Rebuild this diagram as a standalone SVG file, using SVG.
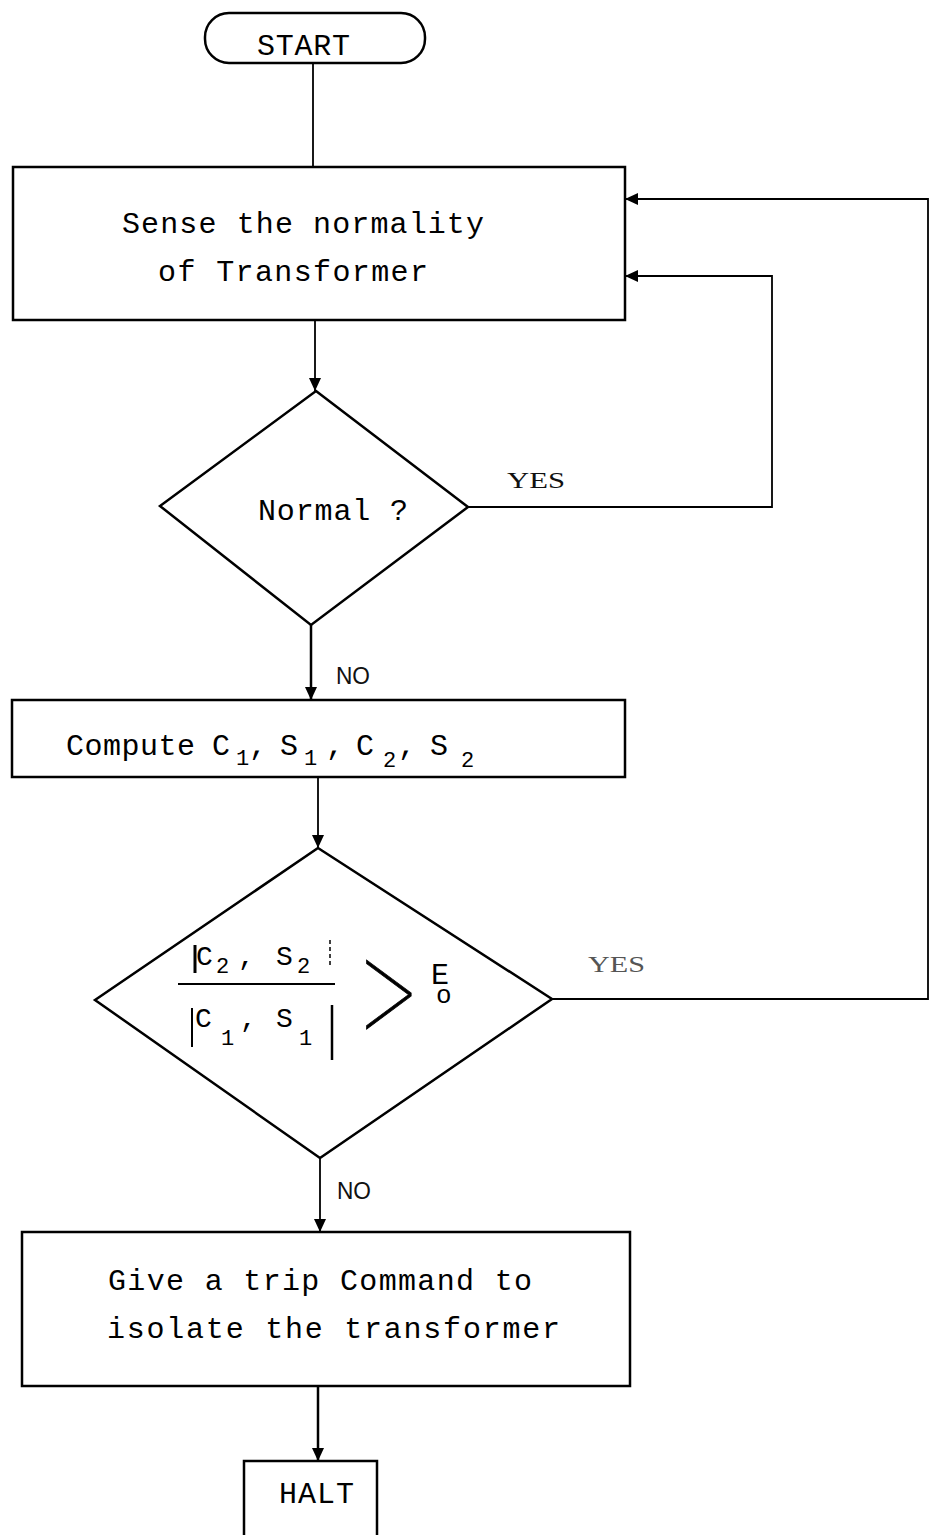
<svg xmlns="http://www.w3.org/2000/svg" width="931" height="1535" viewBox="0 0 931 1535">
<defs>
<marker id="arr" markerUnits="userSpaceOnUse" markerWidth="14" markerHeight="12" refX="13" refY="6" orient="auto">
<path d="M0,0 L13,6 L0,12 Z" fill="#000"/>
</marker>
<style>
.box{fill:#fff;stroke:#000;stroke-width:2.5}
.con{fill:none;stroke:#000;stroke-width:1.8}
.t{font-family:"Liberation Mono",monospace;font-size:30px;fill:#000}
.s{font-family:"Liberation Mono",monospace;font-size:22px;fill:#000}
.lb{font-family:"Liberation Sans",sans-serif;font-size:24px;fill:#111}
</style>
</defs>
<rect width="931" height="1535" fill="#fff"/>
<g id="connectors">
<line class="con" x1="313" y1="63" x2="313" y2="167"/>
<line class="con" x1="315" y1="320" x2="315" y2="391" marker-end="url(#arr)"/>
<line class="con" x1="311" y1="625" x2="311" y2="700" marker-end="url(#arr)" style="stroke-width:2.5"/>
<line class="con" x1="318" y1="777" x2="318" y2="848" marker-end="url(#arr)"/>
<line class="con" x1="320" y1="1158" x2="320" y2="1232" marker-end="url(#arr)"/>
<line class="con" x1="318" y1="1386" x2="318" y2="1461" marker-end="url(#arr)" style="stroke-width:2.5"/>
<polyline class="con" points="468,507 772,507 772,276 625,276" marker-end="url(#arr)"/>
<polyline class="con" points="552,999 928,999 928,199 625,199" marker-end="url(#arr)"/>
<text class="lb" x="507" y="488" textLength="58" lengthAdjust="spacingAndGlyphs" style="font-family:'Liberation Serif',serif">YES</text>
<text class="lb" x="588" y="972" textLength="57" lengthAdjust="spacingAndGlyphs" style="font-family:'Liberation Serif',serif;fill:#555">YES</text>
<text class="lb" x="336" y="684" textLength="34" lengthAdjust="spacingAndGlyphs">NO</text>
<text class="lb" x="337" y="1199" textLength="34" lengthAdjust="spacingAndGlyphs">NO</text>
</g>
<g id="start">
<rect class="box" x="205" y="13" width="220" height="50" rx="24"/>
<text class="t" x="257" y="55" textLength="93" lengthAdjust="spacing">START</text>
</g>
<g id="sense">
<rect class="box" x="13" y="167" width="612" height="153"/>
<text class="t" x="122" y="233" textLength="362" lengthAdjust="spacing">Sense the normality</text>
<text class="t" x="158" y="281" textLength="270" lengthAdjust="spacing">of Transformer</text>
</g>
<g id="normal">
<polygon class="box" points="316,391 468,507 311,625 160,506"/>
<text class="t" x="258" y="520" textLength="150" lengthAdjust="spacing">Normal ?</text>
</g>
<g id="compute">
<rect class="box" x="12" y="700" width="613" height="77"/>
<text class="t" x="66" y="755" textLength="129" lengthAdjust="spacing">Compute</text>
<text class="t" x="212" y="755">C</text><text class="s" x="236" y="765">1</text><text class="t" x="249" y="755">,</text>
<text class="t" x="280" y="755">S</text><text class="s" x="304" y="765">1</text><text class="t" x="326" y="755">,</text>
<text class="t" x="356" y="755">C</text><text class="s" x="383" y="767">2</text><text class="t" x="398" y="755">,</text>
<text class="t" x="430" y="755">S</text><text class="s" x="461" y="767">2</text>
</g>
<g id="ratio">
<polygon class="box" points="318,848 552,999 320,1158 95,1000"/>
<line x1="195" y1="945" x2="195" y2="973" stroke="#000" stroke-width="3"/>
<text class="t" x="196" y="965" style="font-size:28px">C</text><text class="s" x="216" y="973">2</text><text class="t" x="238" y="965" style="font-size:28px">,</text>
<text class="t" x="276" y="965" style="font-size:28px">S</text><text class="s" x="297" y="973">2</text>
<line x1="330" y1="940" x2="330" y2="966" stroke="#000" stroke-width="1.5" stroke-dasharray="4,3"/>
<line x1="178" y1="984" x2="335" y2="984" stroke="#000" stroke-width="2"/>
<line x1="192" y1="1008" x2="192" y2="1047" stroke="#000" stroke-width="2"/>
<text class="t" x="195" y="1027" style="font-size:28px">C</text><text class="s" x="221" y="1045">1</text><text class="t" x="240" y="1027" style="font-size:28px">,</text>
<text class="t" x="276" y="1027" style="font-size:28px">S</text><text class="s" x="299" y="1045">1</text>
<line x1="332" y1="1005" x2="332" y2="1060" stroke="#000" stroke-width="2.5"/>
<text transform="matrix(1.15 0 0 1.31 350 1032)" x="0" y="0" style="font-family:Inter,'Noto Sans',sans-serif;font-weight:100;font-size:100px;fill:#000;stroke:#000;stroke-width:0.6">&gt;</text>
<text class="t" x="431" y="984">E<tspan dx="-13" dy="19" style="font-size:26px">o</tspan></text>
</g>
<g id="trip">
<rect class="box" x="22" y="1232" width="608" height="154"/>
<text class="t" x="108" y="1290" textLength="424" lengthAdjust="spacing">Give a trip Command to</text>
<text class="t" x="107" y="1338" textLength="453" lengthAdjust="spacing">isolate the transformer</text>
</g>
<g id="halt">
<rect class="box" x="244" y="1461" width="133" height="90"/>
<text class="t" x="279" y="1503" textLength="75" lengthAdjust="spacing">HALT</text>
</g>
</svg>
